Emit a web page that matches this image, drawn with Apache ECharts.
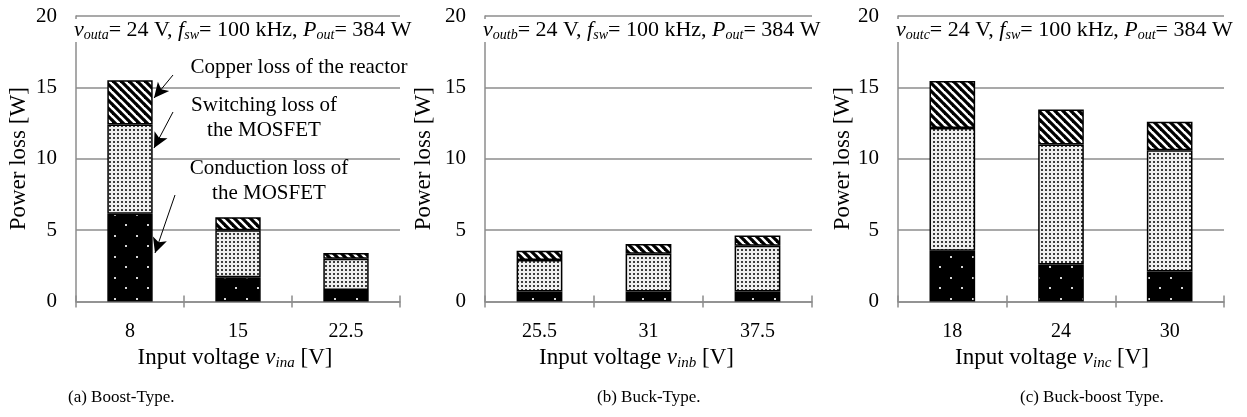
<!DOCTYPE html>
<html>
<head>
<meta charset="utf-8">
<script src="https://cdn.jsdelivr.net/npm/echarts@6/dist/echarts.min.js"></script>
<style>
html, body { margin: 0; padding: 0; background: #fff; }
#chart { width: 1247px; height: 417px; }
</style>
</head>
<body>
<div id="chart"></div>
<script>
// input voltages (tick labels) per converter type
const catsA = ['8', '15', '22.5']
const catsB = ['25.5', '31', '37.5']
const catsC = ['18', '24', '30']

// power loss [W], conduction / switching loss of the MOSFET, copper loss of the reactor
const condA = [6.15, 1.7, 0.8]
const swA = [6.25, 3.3, 2.2]
const cuA = [3.1, 0.9, 0.4]

const condB = [0.7, 0.7, 0.7]
const swB = [2.2, 2.65, 3.2]
const cuB = [0.65, 0.67, 0.73]

const condC = [3.55, 2.6, 2.1]
const swC = [8.6, 8.4, 8.5]
const cuC = [3.3, 2.45, 2.0]

const FONT = '"Liberation Serif", "Times New Roman", serif'
const GRAY = '#8c8c8c'

function tile(w, h, draw) {
  let c = document.createElement('canvas')
  c.width = w
  c.height = h
  draw(c.getContext('2d'), w, h)
  return { image: c, repeat: 'repeat' }
}

// black with sparse light dots
const condFill = tile(22, 21, (ctx, w, h) => {
  ctx.fillStyle = '#000'
  ctx.fillRect(0, 0, w, h)
  ctx.fillStyle = '#d6d6d6'
  ctx.fillRect(4, 4, 2, 2)
  ctx.fillRect(15, 14, 2, 2)
})
// light gray with dense dark dots
const swFill = tile(4, 4, (ctx, w, h) => {
  ctx.fillStyle = '#eeeeee'
  ctx.fillRect(0, 0, w, h)
  ctx.fillStyle = '#3c3c3c'
  ctx.fillRect(1, 1, 2, 2)
})
// diagonal stripes
const cuFill = tile(8, 8, (ctx, w, h) => {
  ctx.fillStyle = '#fff'
  ctx.fillRect(0, 0, w, h)
  ctx.strokeStyle = '#000'
  ctx.lineWidth = 3.2
  for (let k = -1; k <= 1; k++) {
    ctx.beginPath()
    ctx.moveTo(k * w - 1, -1)
    ctx.lineTo(k * w + w + 1, h + 1)
    ctx.stroke()
  }
})

const grids = [
  { left: 76, top: 16, width: 324, height: 285.5 },
  { left: 485, top: 16, width: 327, height: 285.5 },
  { left: 898, top: 16, width: 326, height: 285.5 }
]
const cats = [catsA, catsB, catsC]
const subs = ['ina', 'inb', 'inc']
const namePad = [6, 24, 18]
const yGap = [46, 50, 41]
const outs = ['outa', 'outb', 'outc']

const rich = {
  n: { fontFamily: FONT, fontSize: 22, fontWeight: 'normal', color: '#000', lineHeight: 24 },
  i: { fontFamily: FONT, fontSize: 22, fontWeight: 'normal', fontStyle: 'italic', color: '#000', lineHeight: 24 },
  s: { fontFamily: FONT, fontSize: 14, fontWeight: 'normal', fontStyle: 'italic', color: '#000', lineHeight: 14, verticalAlign: 'bottom' }
}

let xAxes = []
let yAxes = []
grids.forEach((g, k) => {
  xAxes.push({
    type: 'category', gridIndex: k, data: cats[k],
    axisLine: { lineStyle: { color: GRAY, width: 1.5 } },
    axisTick: { show: true, length: 6, lineStyle: { color: GRAY, width: 1.5 } },
    axisLabel: { fontFamily: FONT, fontSize: 20, color: '#000', margin: 20 },
    name: 'Input voltage {i|v}{s|' + subs[k] + '} [V]',
    nameLocation: 'middle', nameGap: 42,
    nameTextStyle: {
      fontFamily: FONT, fontSize: 23, color: '#000', padding: [0, namePad[k], 0, 0],
      rich: {
        i: { fontFamily: FONT, fontSize: 23, fontStyle: 'italic', color: '#000', lineHeight: 26 },
        s: { fontFamily: FONT, fontSize: 15, fontStyle: 'italic', color: '#000', lineHeight: 15, verticalAlign: 'bottom' }
      }
    }
  })
  // upward half of the crossing ticks
  xAxes.push({
    type: 'category', gridIndex: k, data: cats[k], position: 'bottom',
    axisLine: { show: false },
    axisTick: { show: true, inside: true, length: 6, lineStyle: { color: GRAY, width: 1.5 } },
    axisLabel: { show: false }
  })
  yAxes.push({
    type: 'value', gridIndex: k, min: 0, max: 20, interval: 5,
    axisLine: { show: true, lineStyle: { color: GRAY, width: 1.5 } },
    axisTick: { show: false },
    axisLabel: { fontFamily: FONT, fontSize: 21, color: '#000', margin: 19 },
    splitLine: { lineStyle: { color: GRAY, width: 1.5 } },
    name: 'Power loss [W]', nameLocation: 'middle', nameGap: yGap[k], nameRotate: 90,
    nameTextStyle: { fontFamily: FONT, fontSize: 23, color: '#000' }
  })
})

const sets = [[condA, swA, cuA], [condB, swB, cuB], [condC, swC, cuC]]
const fills = [condFill, swFill, cuFill]
const names = ['Conduction loss of the MOSFET', 'Switching loss of the MOSFET', 'Copper loss of the reactor']
let series = []
sets.forEach((set, k) => {
  set.forEach((vals, j) => {
    series.push({
      name: names[j], type: 'bar', stack: 'loss' + k,
      xAxisIndex: k * 2, yAxisIndex: k, barWidth: '42%',
      itemStyle: { color: fills[j], borderColor: '#000', borderWidth: 1.5 },
      data: vals
    })
  })
})

// callout arrows in panel (a)
series[2].markLine = {
  silent: true, symbol: ['none', 'arrow'], symbolSize: [11, 15],
  label: { show: false },
  lineStyle: { color: '#000', width: 1, type: 'solid' },
  data: [
    [{ x: 173, y: 75 }, { x: 154, y: 98 }],
    [{ x: 173, y: 112 }, { x: 154, y: 148 }],
    [{ x: 175, y: 195 }, { x: 155, y: 253 }]
  ]
}

const titles = grids.map((g, k) => ({
  left: g.left - 3, top: 18,
  text: '{i|v}{s|' + outs[k] + '}{n|= 24 V, }{i|f}{s|sw}{n|= 100 kHz, }{i|P}{s|out}{n|= 384 W}',
  backgroundColor: '#fff', padding: [0, 1],
  textStyle: { fontWeight: 'normal', rich: rich }
}))

function label(x, y, text, size, align) {
  return {
    type: 'text', x: x, y: y, z: 100,
    style: {
      text: text, fill: '#000', font: size + 'px ' + FONT,
      align: align || 'center', verticalAlign: 'middle', lineHeight: 25
    }
  }
}

let chart = echarts.init(document.getElementById('chart'))
chart.setOption({
  animation: false,
  backgroundColor: '#fff',
  title: titles,
  grid: grids.map(g => Object.assign({ containLabel: false, outerBoundsMode: 'none' }, g)),
  xAxis: xAxes,
  yAxis: yAxes,
  series: series,
  graphic: [
    label(299, 67, 'Copper loss of the reactor', 21),
    label(264, 118, 'Switching loss of\nthe MOSFET', 21),
    label(269, 181, 'Conduction loss of\nthe MOSFET', 21),
    label(68, 398, '(a) Boost-Type.', 17, 'left'),
    label(597, 398, '(b) Buck-Type.', 17, 'left'),
    label(1020, 398, '(c) Buck-boost Type.', 17, 'left')
  ]
})
</script>
</body>
</html>
